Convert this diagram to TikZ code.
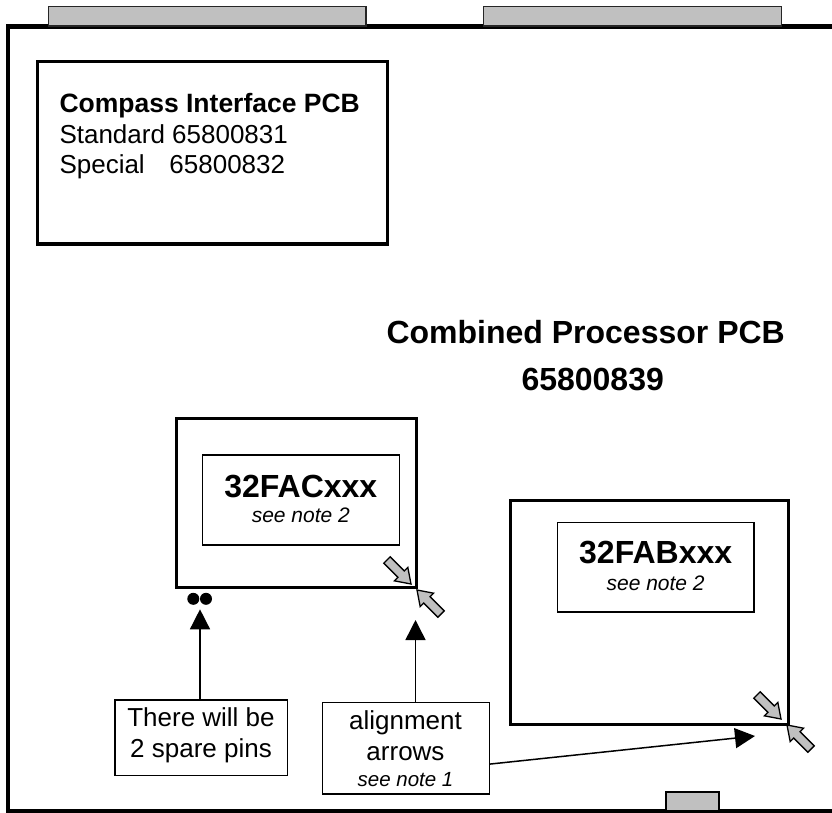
\documentclass[tikz,border=0pt]{standalone}
\usepackage{fontspec}
\setmainfont{Liberation Sans}
\usetikzlibrary{arrows.meta,calc}
\definecolor{pcbgray}{HTML}{C0C0C0}
\begin{document}
\begin{tikzpicture}[x=1pt,y=-1pt,
  box/.style={draw, line width=1.5pt, inner sep=0pt, rectangle},
  chipbox/.style={draw, line width=3pt, inner sep=0pt, rectangle},
  edgecon/.style={draw=black!85, fill=pcbgray, line width=1.2pt, inner sep=0pt, rectangle},
  pin/.style={circle, fill=black, inner sep=0pt, minimum size=12pt},
  conn/.style={line width=1.5pt, -{Triangle[length=20pt,width=20pt]}},
  txt/.style={inner sep=0pt, anchor=base},
  ltxt/.style={inner sep=0pt, anchor=base west},
  big/.style={font=\fontsize{26}{30}\selectfont},
  bigb/.style={font=\fontsize{26.5}{30}\selectfont\bfseries},
  huge/.style={font=\fontsize{32}{36}\selectfont\bfseries},
  note/.style={font=\fontsize{21}{24}\selectfont\itshape},
  galign/.pic={\draw[fill=pcbgray, line width=1.3pt, line join=miter]
     (-34,-4.5) -- (-14,-4.5) -- (-14,-9.5) -- (0,0) -- (-14,9.5) -- (-14,4.5) -- (-34,4.5) -- cycle;}
]
\useasboundingbox (0,0) rectangle (832,812);

% board outline
\draw[line width=4.5pt] (845,26.3) -- (8,26.3) -- (8,811.5) -- (845,811.5);

% edge connectors
\node[edgecon, minimum width=317.7pt, minimum height=19.3pt] (conA) at (207.15,16.35) {};
\node[edgecon, minimum width=298.4pt, minimum height=19.3pt] (conB) at (632.5,16.35) {};
\node[edgecon, draw=black, line width=2pt, minimum width=53.6pt, minimum height=19.3pt] (conC) at (692.5,801.35) {};

% compass interface PCB
\node[draw, line width=3.3pt, inner sep=0pt, minimum width=350pt, minimum height=182.3pt] (compass) at (212.3,152.85) {};
\node[ltxt, bigb] (compassT) at (59.3,112.7) {Compass Interface PCB};
\node[ltxt, big] (compassS) at (59.3,143.3) {Standard 65800831};
\node[ltxt, big] (compassP) at (59.3,173.3) {\makebox[110pt][l]{Special}65800832};

% title
\node[txt, huge] (title) at (585.7,343.3) {Combined Processor PCB};
\node[txt, huge] (titleno) at (592.7,390) {65800839};

% 32FAC
\node[chipbox, minimum width=239.5pt, minimum height=169.2pt] (facout) at (296.5,502.9) {};
\node[box, minimum width=197pt, minimum height=90pt] (facin) at (300.8,500) {};
\node[txt, huge] (faclbl) at (300.8,497) {32FACxxx};
\node[txt, note] (facnote) at (300.8,522) {see note 2};

% 32FAB
\node[chipbox, minimum width=278.5pt, minimum height=223.6pt] (fabout) at (649.25,612.5) {};
\node[box, minimum width=196.7pt, minimum height=89.7pt] (fabin) at (655.65,567.15) {};
\node[txt, huge] (fablbl) at (655.65,563) {32FABxxx};
\node[txt, note] (fabnote) at (655.65,590) {see note 2};

% spare pins
\node[pin] (pin1) at (193.3,598.8) {};
\node[pin] (pin2) at (206,598.8) {};

% alignment arrows (grey)
\pic[rotate=-45] at (411,584) {galign};
\pic[rotate=135] at (417,590) {galign};
\pic[rotate=-45] at (781,719) {galign};
\pic[rotate=135] at (787,725) {galign};

% callout boxes
\node[box, minimum width=172.3pt, minimum height=75.7pt] (spare) at (201.15,737.85) {};
\node[txt, big] (spare1) at (201,726) {There will be};
\node[txt, big] (spare2) at (201,757.3) {2 spare pins};

\node[box, minimum width=166.6pt, minimum height=91.3pt] (align) at (406,748.35) {};
\node[txt, big] (align1) at (405.5,729.3) {alignment};
\node[txt, big] (align2) at (405.5,760) {arrows};
\node[txt, font=\fontsize{20.5}{24}\selectfont\itshape] (align3) at (405.5,786.7) {see note 1};

% connectors
\coordinate (pintip) at (200,609.3);
\coordinate (facmark) at (415.5,620);
\coordinate (fabmark) at (755,736);
\draw[conn] (spare.north -| pintip) -- (pintip);
\draw[conn] (align.north -| facmark) -- (facmark);
\draw[conn] ($(align.east)+(0,15.7)$) -- (fabmark);
\end{tikzpicture}
\end{document}
